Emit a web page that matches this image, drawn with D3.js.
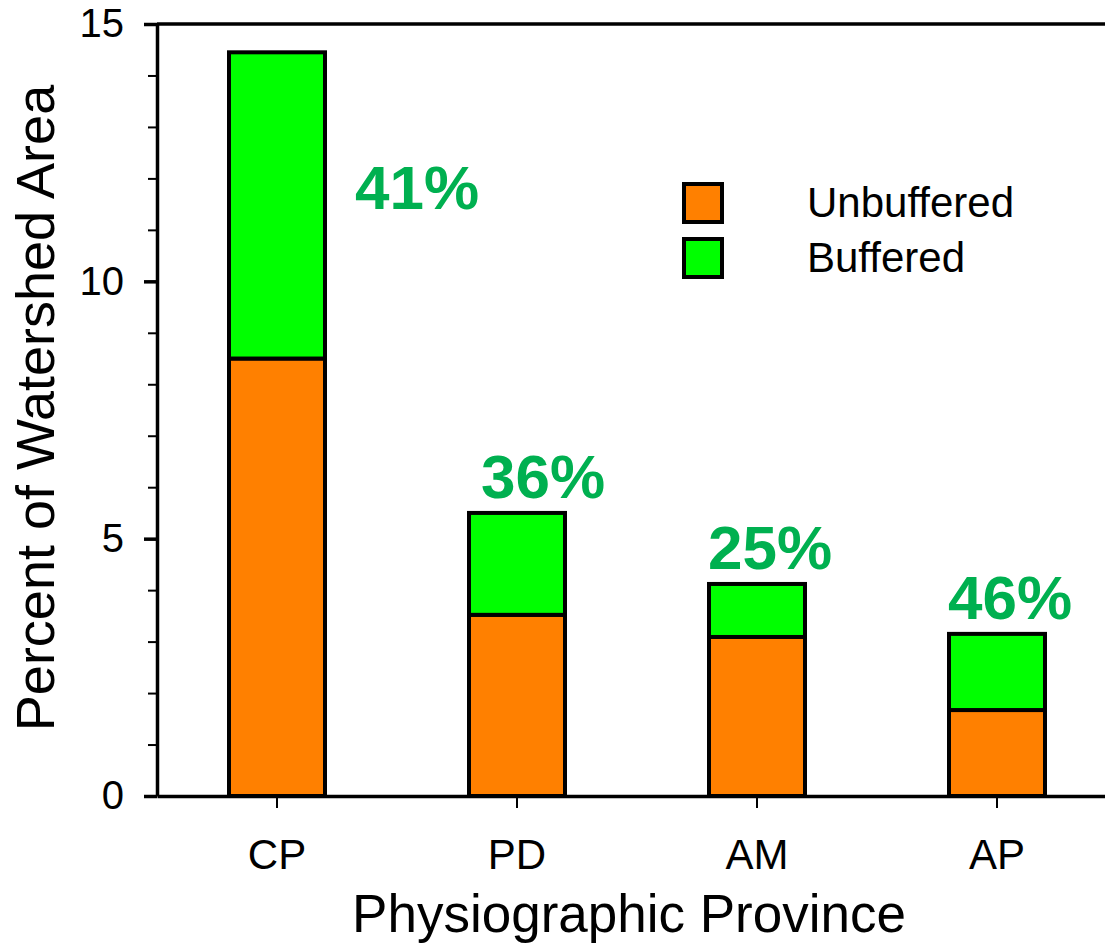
<!DOCTYPE html>
<html>
<head>
<meta charset="utf-8">
<script src="https://cdn.jsdelivr.net/npm/d3@7"></script>
<style>
  body { margin: 0; background: #fff; }
  svg { display: block; font-family: "Liberation Sans", Arial, sans-serif; }
  .axis path, .axis line { stroke: #000; stroke-width: 3.5px; }
  .axis text { fill: #000; }
</style>
</head>
<body>
<svg id="chart" width="1105" height="943"></svg>
<script>
var provinces = ["CP", "PD", "AM", "AP"];
var unbuffered = [8.5, 3.52, 3.09, 1.67];
var buffered = [5.95, 1.98, 1.03, 1.48];
var percentLabels = ["41%", "36%", "25%", "46%"];
var yMajorTicks = [0, 5, 10, 15];
var yMinorTicks = [0, 1, 2, 3, 4, 5, 6, 7, 8, 9, 10, 11, 12, 13, 14, 15];
var seriesNames = ["Unbuffered", "Buffered"];
var seriesColors = ["#ff8000", "#00ff00"];

var svg = d3.select("#chart");
var plotLeft = 157, plotBottom = 796, plotTop = 24, plotRight = 1117;

var x = d3.scaleBand()
    .domain(provinces)
    .range([plotLeft, plotRight])
    .paddingInner(0.6)
    .paddingOuter(0.3);

var y = d3.scaleLinear()
    .domain([0, 15])
    .range([plotBottom, plotTop]);

// build stacked rows
var rows = provinces.map(function (p, i) {
    return { province: p, Unbuffered: unbuffered[i], Buffered: buffered[i] };
});
var stacked = d3.stack().keys(seriesNames)(rows);

// top border
svg.append("line")
    .attr("x1", plotLeft).attr("x2", plotRight)
    .attr("y1", y(15)).attr("y2", y(15))
    .attr("stroke", "#000").attr("stroke-width", 3.5);

// bars
svg.append("g")
    .selectAll("g")
    .data(stacked)
    .enter().append("g")
    .attr("fill", function (d, i) { return seriesColors[i]; })
    .selectAll("rect")
    .data(function (d) { return d; })
    .enter().append("rect")
    .attr("x", function (d) { return x(d.data.province); })
    .attr("width", x.bandwidth())
    .attr("y", function (d) { return y(d[1]); })
    .attr("height", function (d) { return y(d[0]) - y(d[1]); })
    .attr("stroke", "#000")
    .attr("stroke-width", 4);

// percent labels
svg.append("g")
    .selectAll("text")
    .data(provinces)
    .enter().append("text")
    .attr("x", function (d, i) {
        if (i === 0) return x(d) + x.bandwidth() + 30;
        return x(d) + x.bandwidth() / 2 + (i === 1 ? 26 : 13);
    })
    .attr("y", function (d, i) {
        var total = unbuffered[i] + buffered[i];
        if (i === 0) return y(11.4);
        return y(total) - 15;
    })
    .attr("text-anchor", function (d, i) { return i === 0 ? "start" : "middle"; })
    .attr("fill", "#00b050")
    .attr("font-weight", "bold")
    .attr("font-size", 62)
    .text(function (d, i) { return percentLabels[i]; });

// y axis: minor ticks then major ticks
svg.append("g")
    .attr("class", "axis")
    .attr("transform", "translate(" + plotLeft + ",0)")
    .call(d3.axisLeft(y).tickValues(yMinorTicks).tickSize(9).tickFormat(""))
    .call(function (g) {
        g.select(".domain").remove();
        g.selectAll(".tick line").style("stroke-width", "2px");
    });

svg.append("g")
    .attr("class", "axis")
    .attr("transform", "translate(" + plotLeft + ",0)")
    .call(d3.axisLeft(y).tickValues(yMajorTicks).tickSize(13).tickSizeOuter(0).tickPadding(20))
    .call(function (g) { g.selectAll("text").attr("font-size", 40); });

// x axis
svg.append("g")
    .attr("class", "axis")
    .attr("transform", "translate(0," + plotBottom + ")")
    .call(d3.axisBottom(x).tickSize(12).tickSizeOuter(0).tickPadding(31))
    .call(function (g) {
        g.selectAll(".tick line").style("stroke-width", "2px");
        g.selectAll("text").attr("font-size", 42);
    });

// axis titles
svg.append("text")
    .attr("x", (plotLeft + 1105) / 2 - 2)
    .attr("y", 932)
    .attr("text-anchor", "middle")
    .attr("font-size", 53)
    .text("Physiographic Province");

svg.append("text")
    .attr("transform", "translate(54," + ((plotTop + plotBottom) / 2 - 2) + ") rotate(-90)")
    .attr("text-anchor", "middle")
    .attr("font-size", 54)
    .text("Percent of Watershed Area");

// legend
var legend = svg.append("g")
    .selectAll("g")
    .data(seriesNames)
    .enter().append("g")
    .attr("transform", function (d, i) { return "translate(684," + (184 + i * 55) + ")"; });

legend.append("rect")
    .attr("width", 38).attr("height", 38)
    .attr("fill", function (d, i) { return seriesColors[i]; })
    .attr("stroke", "#000").attr("stroke-width", 4);

legend.append("text")
    .attr("x", 123)
    .attr("y", 33)
    .attr("font-size", 42)
    .text(function (d) { return d; });
</script>
</body>
</html>
